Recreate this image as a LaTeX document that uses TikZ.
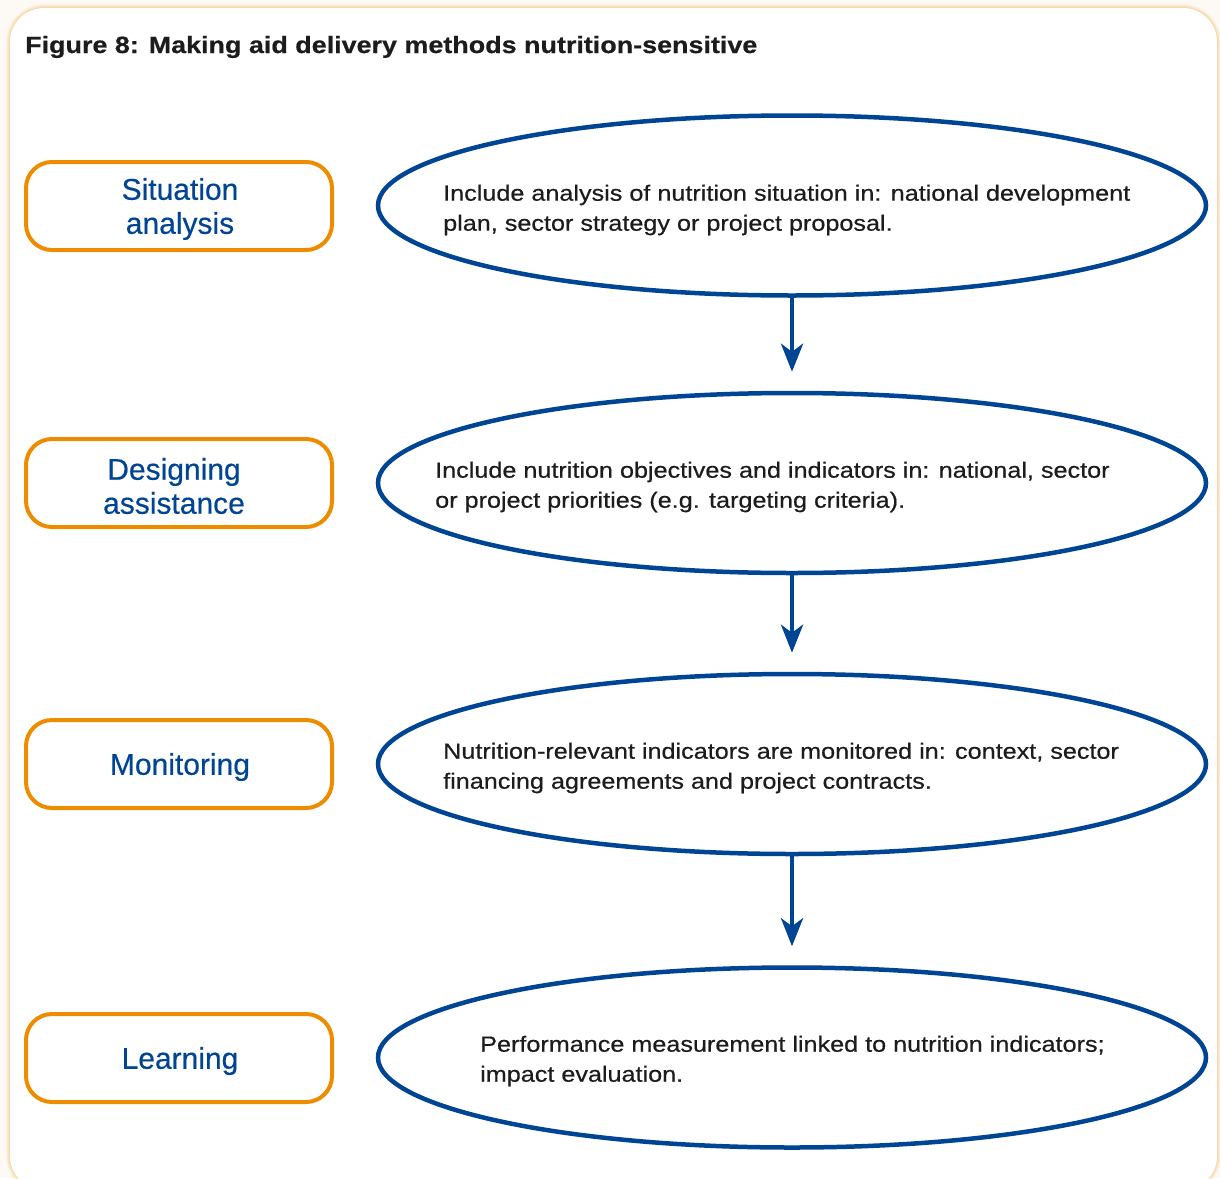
\documentclass[tikz,border=0pt]{standalone}
\usepackage{fontspec}
\setmainfont{Liberation Sans}[FakeStretch=1.145, FakeBold=0.5]
\newfontfamily\labelfont{Liberation Sans}[FakeBold=0.4]
\usetikzlibrary{shapes.geometric,arrows.meta}
\definecolor{navy}{HTML}{004494}
\definecolor{amber}{HTML}{EE8C00}
\definecolor{ink}{HTML}{1C1C1E}
\definecolor{cream}{HTML}{FDFAF5}
\tikzset{
  stage/.style={draw=amber, line width=4pt, rounded corners=26pt, fill=white,
    minimum width=306pt, minimum height=88pt, inner sep=0pt,
    text=navy, align=center, font=\labelfont\fontsize{30}{34}\selectfont},
  action/.style={ellipse, draw=navy, line width=4.5pt, fill=white,
    minimum width=828pt, minimum height=180pt, inner sep=0pt},
  note/.style={anchor=west, align=left, text=ink, inner sep=0pt,
    font=\fontsize{22}{30}\selectfont},
  flow/.style={draw=navy, line width=4.5pt,
    -{Stealth[length=28pt, width=22pt, inset=8pt]}, shorten >=19pt},
}
\begin{document}
\begin{tikzpicture}[x=1pt, y=-1pt]
  \useasboundingbox (0,0) rectangle (1220,1178);
  \fill[cream] (0,0) rectangle (1220,1178);
  % soft amber glow around the panel
  \foreach \g/\o in {8/0.05, 6/0.07, 4/0.09, 2/0.12}
    \draw[amber, line width=\g pt, opacity=\o, rounded corners=34pt]
      (10,8) rectangle (1217,1190);
  \fill[white, rounded corners=34pt] (10,8) rectangle (1217,1190);

  \node[anchor=west, text=ink, inner sep=0pt,
        font=\fontsize{23.5}{28}\selectfont\bfseries] (title) at (25,47)
    {Figure 8: Making aid delivery methods nutrition-sensitive};

  % stage labels
  \node[stage] (s1) at (179,206) {};
  \node[stage] (s2) at (179,483) {};
  \node[stage] (s3) at (179,764) {};
  \node[stage] (s4) at (179,1058) {};
  \node[text=navy, align=center, inner sep=0pt,
        font=\labelfont\fontsize{30}{34}\selectfont] (l1) at (180,209)
    {Situation\\analysis};
  \node[text=navy, align=center, inner sep=0pt,
        font=\labelfont\fontsize{30}{34}\selectfont] (l2) at (174,486)
    {Designing\\assistance};
  \node[text=navy, inner sep=0pt,
        font=\labelfont\fontsize{30}{34}\selectfont] (l3) at (180,767)
    {Monitoring};
  \node[text=navy, inner sep=0pt,
        font=\labelfont\fontsize{30}{34}\selectfont] (l4) at (180,1061)
    {Learning};

  % actions
  \node[action] (e1) at (792,205.5) {};
  \node[action] (e2) at (792,483) {};
  \node[action] (e3) at (792,764) {};
  \node[action] (e4) at (792,1057.5) {};

  \node[note] (t1) at (443,210)
    {Include analysis of nutrition situation in: national development\\
     plan, sector strategy or project proposal.};
  \node[note] (t2) at (435,487)
    {Include nutrition objectives and indicators in: national, sector\\
     or project priorities (e.g. targeting criteria).};
  \node[note] (t3) at (443,768)
    {Nutrition-relevant indicators are monitored in: context, sector\\
     financing agreements and project contracts.};
  \node[note] (t4) at (480,1061)
    {Performance measurement linked to nutrition indicators;\\
     impact evaluation.};

  \draw[flow] (e1.south) -- (e2.north);
  \draw[flow] (e2.south) -- (e3.north);
  \draw[flow] (e3.south) -- (e4.north);
\end{tikzpicture}
\end{document}
